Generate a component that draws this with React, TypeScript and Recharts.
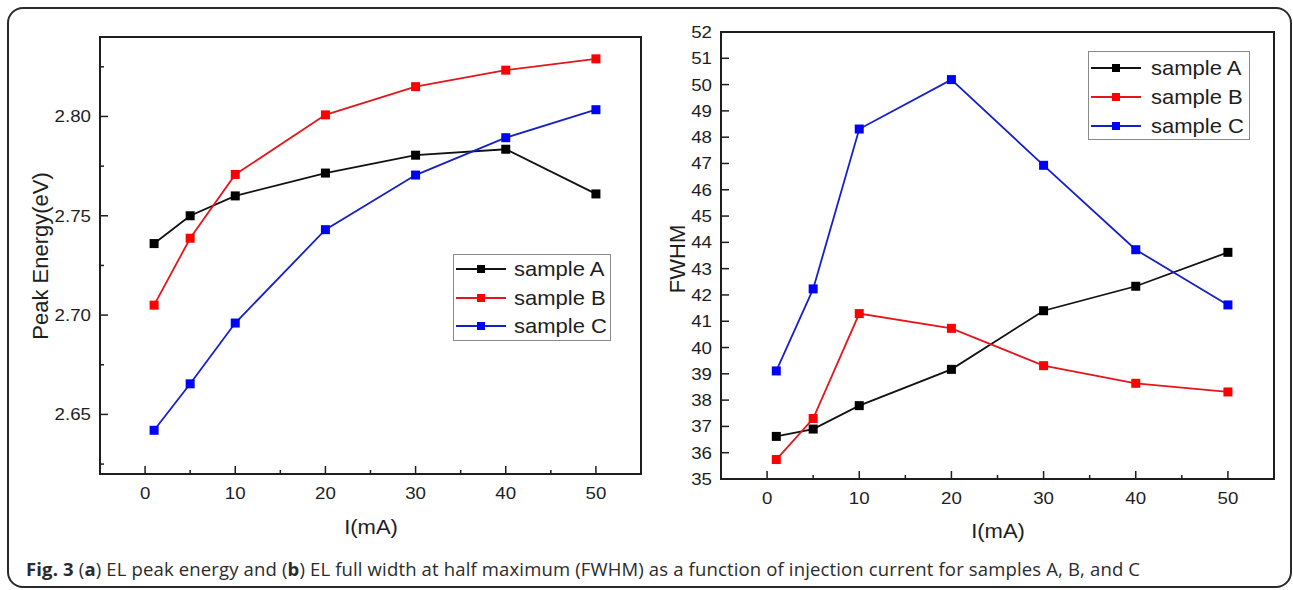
import React from 'react';
import { LineChart, Line, XAxis, YAxis, ReferenceArea, Legend } from 'recharts';

// injection current (mA)
const currents = [1, 5, 10, 20, 30, 40, 50];

// (a) peak energy, eV
const peakA = [2.736, 2.75, 2.76, 2.7715, 2.7805, 2.7835, 2.761];
const peakB = [2.705, 2.7387, 2.7708, 2.8008, 2.815, 2.8233, 2.829];
const peakC = [2.642, 2.6654, 2.696, 2.743, 2.7705, 2.7893, 2.8034];

// (b) FWHM
const fwhmA = [36.62, 36.9, 37.79, 39.17, 41.4, 42.33, 43.62];
const fwhmB = [35.74, 37.3, 41.29, 40.73, 39.31, 38.64, 38.31];
const fwhmC = [39.11, 42.23, 48.31, 50.19, 46.93, 43.72, 41.62];

const xTicks = [0, 5, 10, 15, 20, 25, 30, 35, 40, 45, 50];
const xLabels = [0, 10, 20, 30, 40, 50];
const peakTicks = [2.625, 2.65, 2.675, 2.7, 2.725, 2.75, 2.775, 2.8, 2.825];
const peakLabels = [2.65, 2.7, 2.75, 2.8];
const fwhmLabels = [35, 36, 37, 38, 39, 40, 41, 42, 43, 44, 45, 46, 47, 48, 49, 50, 51, 52];
const fwhmMinor = [35.5, 36.5, 37.5, 38.5, 39.5, 40.5, 41.5, 42.5, 43.5, 44.5, 45.5, 46.5, 47.5, 48.5, 49.5, 50.5, 51.5];

const seriesNames = ['sample A', 'sample B', 'sample C'];
const lineColors = ['#111111', '#e3161c', '#1620c8'];
const markColors = ['#000000', '#ff0000', '#0000ff'];

const INK = '#1e1e1e';
const FONT = '"Liberation Sans", Arial, sans-serif';

const peakData = currents.map((c, i) => ({ I: c, A: peakA[i], B: peakB[i], C: peakC[i] }));
const fwhmData = currents.map((c, i) => ({ I: c, A: fwhmA[i], B: fwhmB[i], C: fwhmC[i] }));

function XTick(props: any) {
  const { x, y, payload } = props;
  const major = xLabels.includes(payload.value);
  return (
    <g>
      <line x1={x} x2={x} y1={y} y2={y - (major ? 8 : 4)} stroke={INK} strokeWidth={1.5} />
      {major && (
        <text transform={`translate(${x},${y + 25}) scale(1.1,1)`} textAnchor="middle" fontSize={17} fontFamily={FONT} fill={INK}>
          {payload.value}
        </text>
      )}
    </g>
  );
}

function makeYTick(labels: number[], digits: number) {
  return (props: any) => {
    const { x, y, payload } = props;
    const major = labels.includes(payload.value);
    return (
      <g>
        <line x1={x} x2={x + (major ? 8 : 4)} y1={y} y2={y} stroke={INK} strokeWidth={1.5} />
        {major && (
          <text transform={`translate(${x - 9},${y + 6}) scale(1.1,1)`} textAnchor="end" fontSize={17} fontFamily={FONT} fill={INK}>
            {payload.value.toFixed(digits)}
          </text>
        )}
      </g>
    );
  };
}

const yTitle = (text: string, cx: number, cy: number) => () => (
  <text transform={`translate(${cx},${cy}) rotate(-90)`} textAnchor="middle" dominantBaseline="central" fontSize={22} fontFamily={FONT} fill={INK}>
    {text}
  </text>
);

const xTitle = (text: string, cx: number, cy: number) => () => (
  <text transform={`translate(${cx},${cy}) scale(1.1,1)`} textAnchor="middle" dominantBaseline="central" fontSize={20} fontFamily={FONT} fill={INK}>
    {text}
  </text>
);

function LegendBox({ w, h, rows, textX }: { w: number; h: number; rows: number[]; textX: number }) {
  return (
    <svg width={w} height={h} style={{ display: 'block', border: '1.5px solid #8a8a8a', boxSizing: 'border-box', background: '#fff' }}>
      {seriesNames.map((name, i) => (
        <g key={name}>
          <line x1={2} x2={52} y1={rows[i]} y2={rows[i]} stroke={lineColors[i]} strokeWidth={1.8} />
          <rect x={23} y={rows[i] - 4} width={8} height={8} fill={markColors[i]} />
          <text transform={`translate(${textX},${rows[i] + 7}) scale(1.1,1)`} fontSize={20} fontFamily={FONT} fill={INK}>
            {name}
          </text>
        </g>
      ))}
    </svg>
  );
}

function square(color: string, key: string) {
  return (p: any) => (
    <rect key={`${key}-${p.index}`} x={p.cx - 4.5} y={p.cy - 4.5} width={9} height={9} fill={color} />
  );
}

function Panel({ data, width, left, top, yWidth, bottom, yDomain, yTicks, yTick, yLabel, xLab, legend }: any) {
  const keys = ['A', 'B', 'C'];
  return (
    <LineChart width={width} height={560} data={data} margin={{ top, right: 19, bottom, left: 0 }} style={{ position: 'absolute', left, top: 0 }}>
      <XAxis
        dataKey="I"
        type="number"
        domain={[-5, 55]}
        ticks={xTicks}
        allowDataOverflow
        height={60}
        tickSize={0}
        tickMargin={0}
        tickLine={false}
        tick={<XTick />}
        axisLine={{ stroke: INK, strokeWidth: 2 }}
        label={xLab}
      />
      <YAxis
        type="number"
        domain={yDomain}
        ticks={yTicks}
        allowDataOverflow
        width={yWidth}
        tickSize={0}
        tickMargin={0}
        tickLine={false}
        tick={yTick}
        axisLine={{ stroke: INK, strokeWidth: 2 }}
        label={yLabel}
      />
      <ReferenceArea x1={-5} x2={55} y1={yDomain[0]} y2={yDomain[1]} fill="none" stroke={INK} strokeWidth={2} fillOpacity={0} />
      {keys.map((k, i) => (
        <Line
          key={k}
          dataKey={k}
          name={seriesNames[i]}
          type="linear"
          stroke={lineColors[i]}
          strokeWidth={1.8}
          dot={square(markColors[i], k)}
          activeDot={false}
          isAnimationActive={false}
        />
      ))}
      <Legend
        layout="vertical"
        align="center"
        verticalAlign="middle"
        wrapperStyle={{ left: legend.left, top: legend.top, width: legend.w, height: legend.h }}
        content={() => <LegendBox w={legend.w} h={legend.h} rows={legend.rows} textX={legend.textX} />}
      />
    </LineChart>
  );
}

export default function App() {
  return (
    <div style={{ position: 'absolute', left: 0, top: 0, width: 1293, height: 590, background: '#fff', overflow: 'hidden' }}>
      <div
        style={{
          position: 'absolute',
          left: 7,
          top: 7,
          width: 1285,
          height: 581,
          border: '2px solid #2a2a2a',
          borderRadius: 16,
          boxSizing: 'border-box',
        }}
      />
      <Panel
        data={peakData}
        width={660}
        left={0}
        top={37}
        yWidth={100}
        bottom={26}
        yDomain={[2.62, 2.84]}
        yTicks={peakTicks}
        yTick={makeYTick(peakLabels, 2)}
        yLabel={yTitle('Peak Energy(eV)', 40, 256)}
        xLab={xTitle('I(mA)', 371, 527)}
        legend={{ left: 453, top: 254, w: 158, h: 87, rows: [14, 43, 71], textX: 60 }}
      />
      <Panel
        data={fwhmData}
        width={653}
        left={640}
        top={32}
        yWidth={81}
        bottom={21}
        yDomain={[35, 52]}
        yTicks={[...fwhmLabels, ...fwhmMinor].sort((a, b) => a - b)}
        yTick={makeYTick(fwhmLabels, 0)}
        yLabel={yTitle('FWHM', 37, 259)}
        xLab={xTitle('I(mA)', 358, 531)}
        legend={{ left: 448, top: 51, w: 162, h: 89, rows: [16, 45, 74], textX: 62 }}
      />
      <div
        style={{
          position: 'absolute',
          left: 26,
          top: 558,
          fontFamily: '"Open Sans", "Noto Sans", sans-serif',
          fontSize: 18.5,
          letterSpacing: 0.15,
          lineHeight: '22px',
          color: '#2b2b2b',
          whiteSpace: 'nowrap',
        }}
      >
        <b>Fig. 3</b> (<b>a</b>) EL peak energy and (<b>b</b>) EL full width at half maximum (FWHM) as a function of injection
        current for samples A, B, and C
      </div>
    </div>
  );
}
